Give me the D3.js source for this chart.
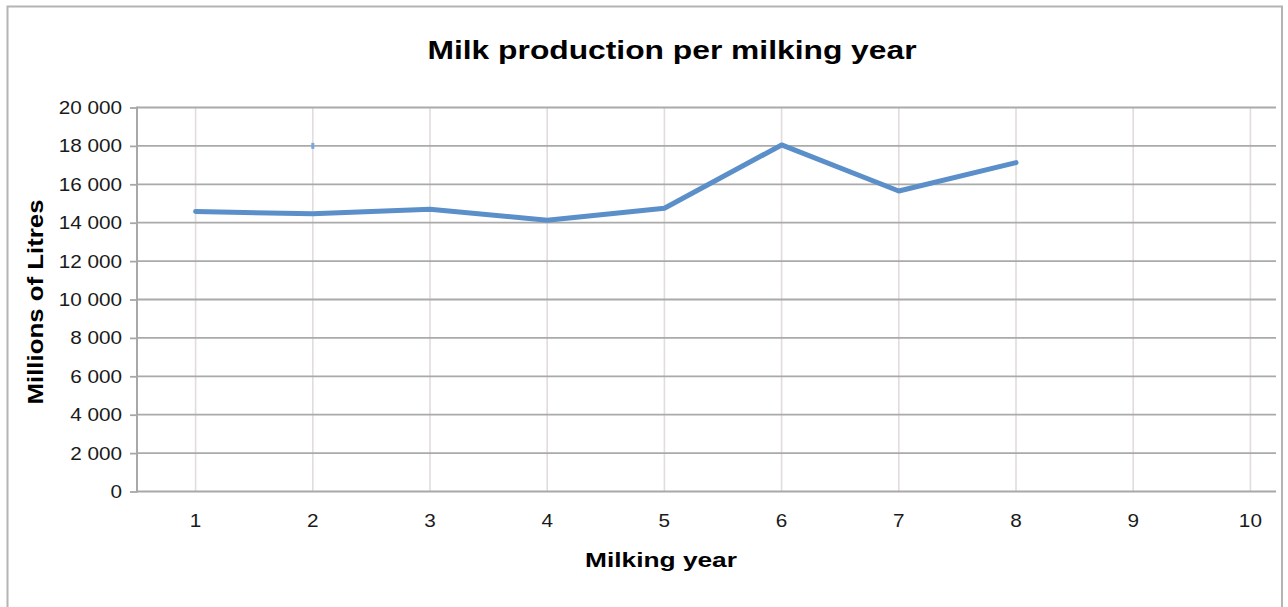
<!DOCTYPE html>
<html>
<head>
<meta charset="utf-8">
<script src="https://cdn.jsdelivr.net/npm/d3@7"></script>
<style>
  html, body { margin: 0; padding: 0; background: #fff; }
  svg { display: block; font-family: "Liberation Sans", Arial, sans-serif; }
</style>
</head>
<body>
<svg width="1288" height="607"></svg>
<script>
// milking years on the x axis
var years = [1, 2, 3, 4, 5, 6, 7, 8, 9, 10];
// production, millions of litres (years 1-8 only)
var production = [14580, 14460, 14700, 14130, 14750, 18050, 15650, 17130];
// stray single marker seen near year 2
var strayPoint = [{year: 2, value: 18000}];
var yTicks = [0, 2000, 4000, 6000, 8000, 10000, 12000, 14000, 16000, 18000, 20000];

(function() {
  var svg = d3.select("svg"),
      margin = {top: 107.5, left: 137, bottom: 491.5, right: 1276};

  var x = d3.scaleLinear().domain([0.5, 10.5]).range([margin.left, margin.left + 1172]),
      y = d3.scaleLinear().domain([0, 20000]).range([margin.bottom, margin.top]);

  var fmt = function(d) { return d3.format(",")(d).replace(/,/g, " "); };

  // the source font is wider than Liberation Sans, so widen the glyphs a bit
  function widen(sel, factor) {
    sel.each(function() {
      var w = this.getComputedTextLength();
      d3.select(this).attr("textLength", w * factor).attr("lengthAdjust", "spacingAndGlyphs");
    });
  }

  // outer frame (bottom edge falls outside the picture)
  svg.append("path")
    .attr("d", "M7.5,607 V6.5 H1282 V607")
    .attr("fill", "none")
    .attr("stroke", "#b4b4b4")
    .attr("stroke-width", 2);

  // vertical grid
  svg.append("g").selectAll("line").data(years)
    .enter().append("line")
    .attr("x1", function(d) { return x(d); })
    .attr("x2", function(d) { return x(d); })
    .attr("y1", margin.top)
    .attr("y2", margin.bottom)
    .attr("stroke", "#e2dcdc")
    .attr("stroke-width", 1.6);

  // horizontal grid
  svg.append("g").selectAll("line").data(yTicks.slice(1))
    .enter().append("line")
    .attr("x1", margin.left)
    .attr("x2", margin.right)
    .attr("y1", function(d) { return y(d); })
    .attr("y2", function(d) { return y(d); })
    .attr("stroke", "#aaaaaa")
    .attr("stroke-width", 1.8);

  // y axis
  var yAxis = svg.append("g")
    .attr("transform", "translate(" + margin.left + ",0)")
    .call(d3.axisLeft(y).tickValues(yTicks).tickFormat(fmt).tickSize(7).tickPadding(8));
  yAxis.select(".domain").remove();
  yAxis.selectAll(".tick line").attr("stroke", "#a8a8a8").attr("stroke-width", 1.8);
  yAxis.selectAll(".tick text")
    .attr("font-family", "Liberation Sans, Arial, sans-serif")
    .attr("font-size", 18.5)
    .attr("fill", "#1a1a1a")
    .call(widen, 1.12);

  svg.append("line")
    .attr("x1", margin.left).attr("x2", margin.left)
    .attr("y1", margin.top - 1).attr("y2", margin.bottom + 1)
    .attr("stroke", "#a8a8a8").attr("stroke-width", 2);
  svg.append("line")
    .attr("x1", margin.left).attr("x2", margin.right)
    .attr("y1", margin.bottom).attr("y2", margin.bottom)
    .attr("stroke", "#a8a8a8").attr("stroke-width", 2);

  // x tick labels
  svg.append("g").selectAll("text").data(years)
    .enter().append("text")
    .attr("x", function(d) { return x(d); })
    .attr("y", 527)
    .attr("text-anchor", "middle")
    .attr("font-size", 18.5)
    .attr("fill", "#1a1a1a")
    .text(function(d) { return d; })
    .call(widen, 1.12);

  // data line
  var line = d3.line()
    .x(function(d, i) { return x(years[i]); })
    .y(function(d) { return y(d); });

  svg.append("path")
    .datum(production)
    .attr("d", line)
    .attr("fill", "none")
    .attr("stroke", "#5b8fc9")
    .attr("stroke-width", 5)
    .attr("stroke-linejoin", "round")
    .attr("stroke-linecap", "round");

  svg.selectAll(".stray").data(strayPoint)
    .enter().append("rect")
    .attr("class", "stray")
    .attr("x", function(d) { return x(d.year) - 1.5; })
    .attr("y", function(d) { return y(d.value) - 3; })
    .attr("width", 3)
    .attr("height", 6)
    .attr("fill", "#7aa6d8");

  // titles
  svg.append("text")
    .attr("x", 672).attr("y", 58.5)
    .attr("text-anchor", "middle")
    .attr("font-size", 25)
    .attr("font-weight", "bold")
    .attr("fill", "#000")
    .attr("textLength", 489)
    .attr("lengthAdjust", "spacingAndGlyphs")
    .text("Milk production per milking year");

  svg.append("text")
    .attr("x", 661).attr("y", 567)
    .attr("text-anchor", "middle")
    .attr("font-size", 21)
    .attr("font-weight", "bold")
    .attr("fill", "#000")
    .attr("textLength", 152)
    .attr("lengthAdjust", "spacingAndGlyphs")
    .text("Milking year");

  svg.append("text")
    .attr("transform", "translate(43,302) rotate(-90)")
    .attr("text-anchor", "middle")
    .attr("font-size", 21.5)
    .attr("font-weight", "bold")
    .attr("fill", "#000")
    .attr("textLength", 205)
    .attr("lengthAdjust", "spacingAndGlyphs")
    .text("Millions of Litres");
})();
</script>
</body>
</html>
